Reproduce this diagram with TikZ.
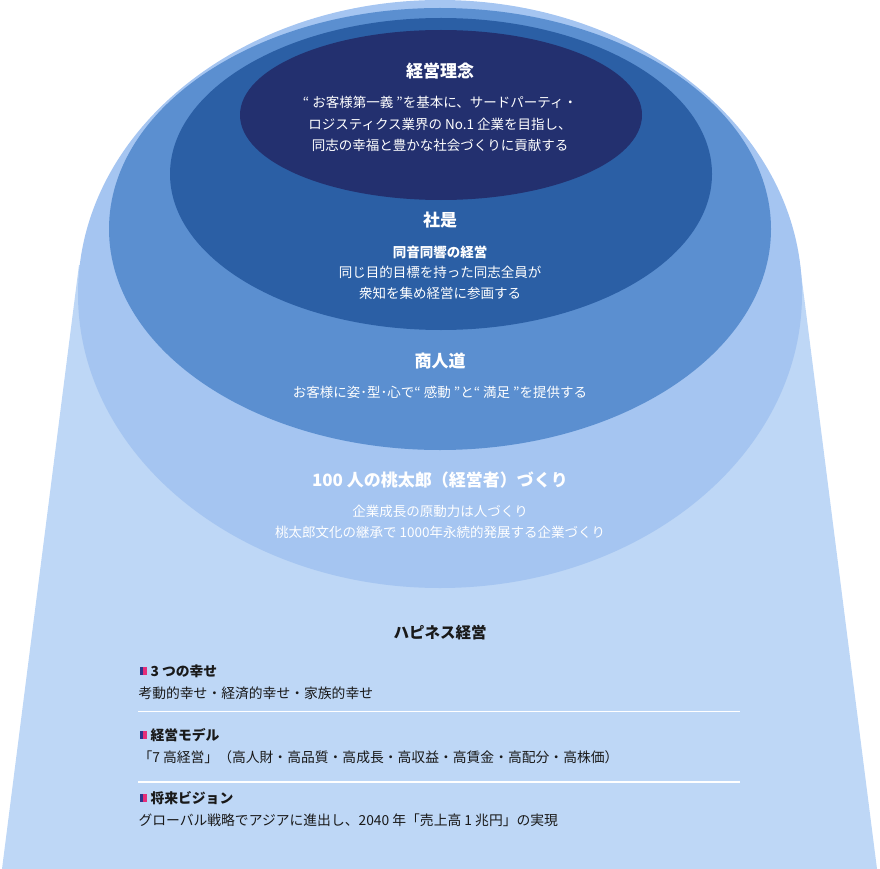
\documentclass[tikz,border=0pt]{standalone}
\usepackage{fontspec}
\setmainfont{Noto Sans CJK JP}
\definecolor{baseblue}{RGB}{190,215,246}
\definecolor{ringfour}{RGB}{165,197,241}
\definecolor{ringthree}{RGB}{91,143,208}
\definecolor{ringtwo}{RGB}{43,95,165}
\definecolor{ringone}{RGB}{35,48,111}
\definecolor{inkgray}{RGB}{25,25,25}
\definecolor{marknavy}{RGB}{45,55,140}
\definecolor{markpink}{RGB}{230,45,120}
\newcommand{\hd}   {\bfseries\fontsize{17}{20}\selectfont}
\newcommand{\bd}   {\fontsize{13.5}{21.5}\selectfont}

\begin{document}
\begin{tikzpicture}[x=1pt,y=-1pt,
   head/.style={text=white,font=\hd},
   body/.style={text=white,font=\bd,align=center},
   item/.style={text=inkgray,font=\fontsize{13.8}{16}\selectfont,anchor=west}]
   \useasboundingbox (0,0) rectangle (880,869);
   % nested rings
   \fill[baseblue] (79,265) -- (800,265) -- (877,869) -- (2,869) -- cycle;
   \fill[ringfour]  (440,294) ellipse [x radius=362, y radius=294];
   \fill[ringthree] (440,229) ellipse [x radius=331, y radius=221];
   \fill[ringtwo]   (441,174) ellipse [x radius=271, y radius=156];
   \fill[ringone]   (441,115) ellipse [x radius=201, y radius=85];
   % texts in the rings
   \node[head] (rinen)  at (440, 71) {経営理念};
   \node[body] (rinent) at (440,124) {“ お客様第一義 ”を基本に、サードパーティ・\\ロジスティクス業界の No.1 企業を目指し、\\同志の幸福と豊かな社会づくりに貢献する};
   \node[head] (shaze)  at (440,220) {社是};
   \node[body,font=\bfseries\bd] (shazet) at (440,252) {同音同響の経営};
   \node[body] (shazeb) at (440,283) {同じ目的目標を持った同志全員が\\衆知を集め経営に参画する};
   \node[head] (shonin) at (440,361) {商人道};
   \node[body] (shonint) at (440,392) {お客様に姿･型･心で“ 感動 ”と“ 満足 ”を提供する};
   \node[head] (momo)   at (440,480) {100 人の桃太郎（経営者）づくり};
   \node[body] (momot)  at (440,522) {企業成長の原動力は人づくり\\桃太郎文化の継承で 1000年永続的発展する企業づくり};
   % happiness list
   \node[head,text=inkgray,font=\bfseries\fontsize{15.5}{18}\selectfont] (happy) at (440,633) {ハピネス経営};
   \foreach \name/\y/\title/\txt in {three/671/3 つの幸せ/考動的幸せ・経済的幸せ・家族的幸せ,
        model/735/経営モデル/「7 高経営」（高人財・高品質・高成長・高収益・高賃金・高配分・高株価）,
        vision/798/将来ビジョン/グローバル戦略でアジアに進出し、2040 年「売上高 1 兆円」の実現}{
      \fill[marknavy] (140,\y-4) rectangle (143,\y+4);
      \fill[markpink] (143,\y-4) rectangle (146.5,\y+4);
      \node[item,font=\bfseries\fontsize{13.8}{16}\selectfont] (\name) at (147,\y) {\title};
      \node[item] (\name t) at (135,\y+22) {\txt};
   }
   \draw[white,line width=1.5] (138,711.5) -- (740,711.5);
   \draw[white,line width=1.5] (138,782) -- (740,782);
\end{tikzpicture}
\end{document}
